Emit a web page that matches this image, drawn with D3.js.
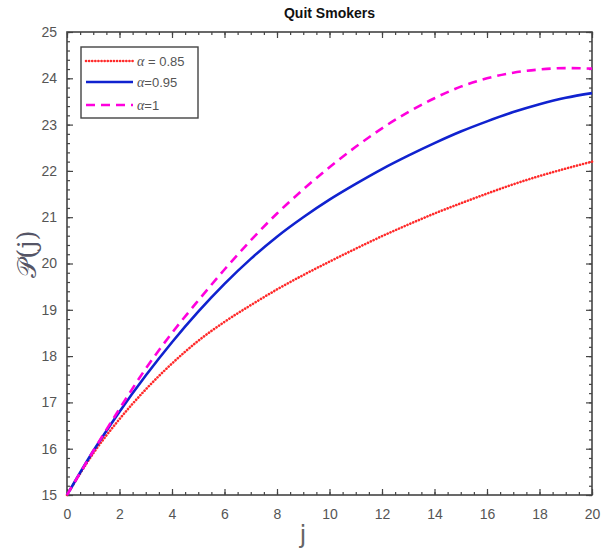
<!DOCTYPE html>
<html>
<head>
<meta charset="utf-8">
<script src="https://cdn.jsdelivr.net/npm/d3@7"></script>
<style>
  body { margin: 0; background: #fff; }
  svg { display: block; font-family: Arial, "Liberation Sans", sans-serif; }
</style>
</head>
<body>
<div id="chart"></div>
<script>
const width = 601;
const height = 548;

// values, j = 0..20
const jValues = d3.range(0, 21);
const alpha085 = [15.0, 15.9, 16.64, 17.28, 17.84, 18.33, 18.74, 19.1, 19.44, 19.75, 20.04,
                  20.32, 20.59, 20.84, 21.08, 21.3, 21.51, 21.71, 21.89, 22.05, 22.2];
const alpha095 = [15.0, 15.95, 16.8, 17.58, 18.3, 18.96, 19.56, 20.1, 20.58, 21.0, 21.38,
                  21.72, 22.04, 22.33, 22.6, 22.85, 23.07, 23.27, 23.44, 23.58, 23.68];
const alpha1 = [15.0, 15.95, 16.86, 17.73, 18.5, 19.2, 19.87, 20.5, 21.08, 21.6, 22.08,
                22.52, 22.92, 23.27, 23.57, 23.82, 24.0, 24.12, 24.19, 24.22, 24.21];
const xTicks = d3.range(0, 21, 2);
const yTicks = d3.range(15, 26, 1);
const seriesNames = [' = 0.85', '=0.95', '=1'];

const margin = { top: 32, right: 9, bottom: 53, left: 67 };
const innerW = width - margin.left - margin.right;
const innerH = height - margin.top - margin.bottom;

const x = d3.scaleLinear().domain([0, 20]).range([0, innerW]);
const y = d3.scaleLinear().domain([15, 25]).range([innerH, 0]);

const svg = d3.select('#chart')
    .append('svg')
    .attr('width', width)
    .attr('height', height);

const g = svg.append('g')
    .attr('transform', `translate(${margin.left},${margin.top})`);

const axisColor = '#444';

// ticks point inwards on all four sides
function drawAxis(axis, tx, ty) {
    const a = g.append('g')
        .attr('transform', `translate(${tx},${ty})`)
        .call(axis);
    a.select('.domain').remove();
    a.selectAll('line').attr('stroke', axisColor).attr('stroke-width', 1.2);
    return a;
}

const xMinor = d3.range(0, 20.01, 0.5);
const yMinor = d3.range(15, 25.01, 0.2);

drawAxis(d3.axisBottom(x).tickValues(xMinor).tickSize(-3).tickFormat(''), 0, innerH);
drawAxis(d3.axisTop(x).tickValues(xMinor).tickSize(-3).tickFormat(''), 0, 0);
drawAxis(d3.axisLeft(y).tickValues(yMinor).tickSize(-3).tickFormat(''), 0, 0);
drawAxis(d3.axisRight(y).tickValues(yMinor).tickSize(-3).tickFormat(''), innerW, 0);

const xAxis = drawAxis(d3.axisBottom(x).tickValues(xTicks).tickSize(-6).tickPadding(14), 0, innerH);
drawAxis(d3.axisTop(x).tickValues(xTicks).tickSize(-6).tickFormat(''), 0, 0);
const yAxis = drawAxis(d3.axisLeft(y).tickValues(yTicks).tickSize(-6).tickPadding(10), 0, 0);
drawAxis(d3.axisRight(y).tickValues(yTicks).tickSize(-6).tickFormat(''), innerW, 0);

xAxis.selectAll('text').attr('font-size', 14).attr('fill', '#555');
yAxis.selectAll('text').attr('font-size', 14).attr('fill', '#555');

// frame
g.append('rect')
    .attr('width', innerW)
    .attr('height', innerH)
    .attr('fill', 'none')
    .attr('stroke', axisColor)
    .attr('stroke-width', 1.6);

const line = d3.line()
    .x((d, i) => x(jValues[i]))
    .y(d => y(d))
    .curve(d3.curveMonotoneX);

const styles = [
    { data: alpha085, color: '#ff2a2a', dash: '0.1 3', width: 2.6, cap: 'round' },
    { data: alpha095, color: '#1022cf', dash: null, width: 2.6, cap: 'butt' },
    { data: alpha1, color: '#ff00dd', dash: '9 6', width: 2.6, cap: 'butt' }
];

styles.forEach(s => {
    g.append('path')
        .datum(s.data)
        .attr('d', line)
        .attr('fill', 'none')
        .attr('stroke', s.color)
        .attr('stroke-width', s.width)
        .attr('stroke-linecap', s.cap)
        .attr('stroke-dasharray', s.dash);
});

// legend
const legend = svg.append('g').attr('transform', 'translate(81,47)');
legend.append('rect')
    .attr('width', 117)
    .attr('height', 71)
    .attr('fill', '#fff')
    .attr('stroke', axisColor)
    .attr('stroke-width', 1.4);

const rowY = [14, 35, 58];
styles.forEach((s, i) => {
    legend.append('line')
        .attr('x1', 5).attr('x2', 52)
        .attr('y1', rowY[i]).attr('y2', rowY[i])
        .attr('stroke', s.color)
        .attr('stroke-width', s.width)
        .attr('stroke-linecap', s.cap)
        .attr('stroke-dasharray', s.dash);
    const t = legend.append('text')
        .attr('x', 56)
        .attr('y', rowY[i] + 5)
        .attr('font-size', 13)
        .attr('fill', '#555');
    t.append('tspan')
        .attr('font-family', '"Liberation Serif", "DejaVu Serif", serif')
        .attr('font-style', 'italic')
        .attr('font-size', 14)
        .text('α');
    t.append('tspan').text(seriesNames[i]);
});

// title and axis labels
svg.append('text')
    .attr('x', margin.left + innerW / 2)
    .attr('y', 18)
    .attr('text-anchor', 'middle')
    .attr('font-size', 14)
    .attr('font-weight', 'bold')
    .attr('fill', '#111')
    .text('Quit Smokers');

svg.append('text')
    .attr('x', 303)
    .attr('y', 543)
    .attr('text-anchor', 'middle')
    .attr('font-family', '"DejaVu Sans", sans-serif')
    .attr('font-size', 25)
    .attr('fill', '#666')
    .text('j');

svg.append('text')
    .attr('transform', 'translate(36,254) rotate(-90)')
    .attr('text-anchor', 'middle')
    .attr('font-family', '"DejaVu Serif", "Liberation Serif", serif')
    .attr('font-size', 26)
    .attr('fill', '#556')
    .text('𝒫(j)');
</script>
</body>
</html>
